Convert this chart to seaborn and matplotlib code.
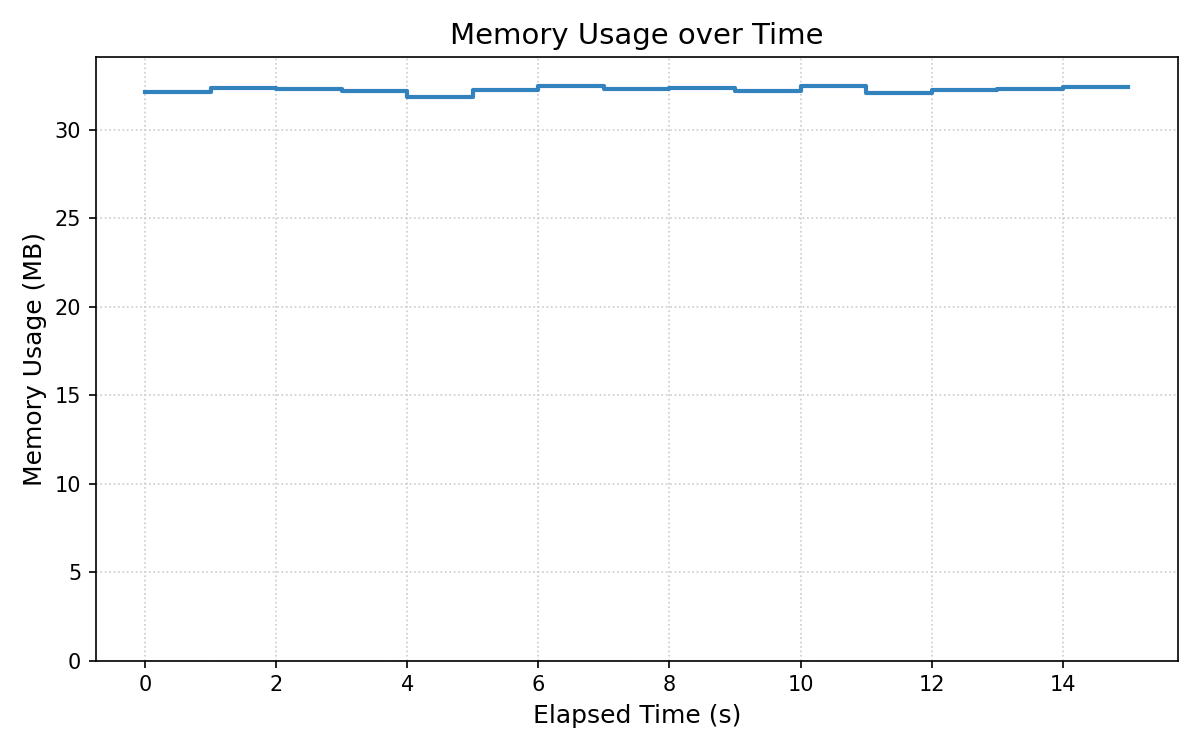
import matplotlib
matplotlib.use("Agg")
import matplotlib.pyplot as plt
import seaborn as sns
import pandas as pd

# memory samples, one per second
elapsed_s = list(range(16))
memory_mb = [32.12, 32.38, 32.30, 32.19, 31.86, 32.23, 32.49, 32.30,
             32.38, 32.19, 32.49, 32.08, 32.23, 32.29, 32.42, 32.42]

df = pd.DataFrame({"Elapsed Time (s)": elapsed_s, "Memory Usage (MB)": memory_mb})

plt.rcParams['font.family'] = ['DejaVu Sans']

fig, ax = plt.subplots(figsize=(8, 5), dpi=150)
sns.lineplot(data=df, x="Elapsed Time (s)", y="Memory Usage (MB)", ax=ax,
             drawstyle="steps-post", color="#3182bd", linewidth=2)
ax.set_ylim(0, max(memory_mb) * 1.05)
ax.grid(True, linestyle=":", color="#cccccc", linewidth=0.8)
ax.set_title("Memory Usage over Time", fontsize=14)
ax.set_xlabel("Elapsed Time (s)", fontsize=12)
ax.set_ylabel("Memory Usage (MB)", fontsize=12)
ax.tick_params(labelsize=10)

fig.tight_layout()
fig.savefig("out.png")
